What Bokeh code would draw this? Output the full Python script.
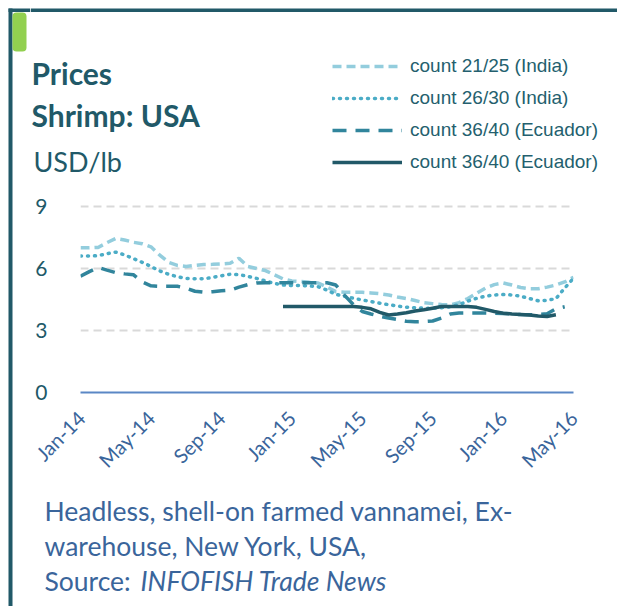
import math
from bokeh.plotting import figure
from bokeh.layouts import row, column
from bokeh.models import (ColumnDataSource, Range1d, FixedTicker, Legend, LegendItem,
                          Label, BoxAnnotation)
from bokeh.embed import file_html
from bokeh.resources import INLINE

NaN = float("nan")

# half-month periods from Jan-14 (0) to May-16 (28)
periods = [i / 2 for i in range(57)]
tick_positions = [0, 4, 8, 12, 16, 20, 24, 28]
tick_labels = ["Jan-14", "May-14", "Sep-14", "Jan-15", "May-15", "Sep-15", "Jan-16", "May-16"]
y_ticks = [0, 3, 6, 9]

india_2125 = [7.0, 7.0, 7.02, 7.25, 7.45, 7.38, 7.27, 7.2, 7.05, 6.65, 6.3, 6.15, 6.1, 6.15,
              6.19, 6.2, 6.22, 6.25, 6.5, 6.1, 6.0, 5.9, 5.7, 5.5, 5.4, 5.37, 5.33, 5.3, 5.1,
              4.88, 4.85, 4.85, 4.85, 4.82, 4.78, 4.72, 4.62, 4.55, 4.45, 4.35, 4.3, 4.26, 4.24,
              4.35, 4.55, 4.8, 5.05, 5.22, 5.3, 5.2, 5.08, 5.02, 5.02, 5.1, 5.2, 5.35, 5.58]
india_2630 = [6.6, 6.6, 6.62, 6.72, 6.79, 6.66, 6.48, 6.3, 6.1, 5.88, 5.72, 5.6, 5.52, 5.5,
              5.5, 5.57, 5.65, 5.72, 5.7, 5.62, 5.52, 5.4, 5.28, 5.2, 5.18, 5.18, 5.16, 5.12,
              4.95, 4.75, 4.65, 4.56, 4.48, 4.4, 4.32, 4.25, 4.18, 4.13, 4.1, 4.08, 4.08, 4.1,
              4.15, 4.25, 4.42, 4.56, 4.66, 4.72, 4.74, 4.72, 4.66, 4.55, 4.44, 4.46, 4.54, 5.05, 5.53]
ecuador_3640_a = [5.63, 5.85, 6.05, 5.92, 5.8, 5.74, 5.7,
                  5.35, 5.16, 5.14, 5.14, 5.14, 5.05, 4.9, 4.85,
                  4.88, 4.92, 4.95, 5.1, 5.22, 5.3, 5.31, 5.31,
                  5.31, 5.31, 5.31, 5.31, 5.31, 5.31, 5.2, 4.7,
                  4.25, 3.92, 3.8, 3.69, 3.6, 3.53, 3.45, 3.42,
                  3.43, 3.46, 3.6, 3.8, 3.85, 3.85, 3.85, 3.85,
                  3.84, 3.82, 3.8, 3.77, 3.76, 3.78, 3.81, 4.05,
                  4.15, NaN]
ecuador_3640_b = [NaN] * 23 + [4.16, 4.16, 4.16, 4.16, 4.16, 4.16, 4.16, 4.16, 4.16,
                               4.12, 4.05, 3.88, 3.75, 3.8, 3.86, 3.94, 4.0, 4.08,
                               4.16, 4.16, 4.16, 4.16,
                               4.12, 4.02, 3.92, 3.84, 3.8, 3.78, 3.75, 3.7, 3.68, 3.76] + [NaN, NaN]

series_names = ["count 21/25 (India)", "count 26/30 (India)",
                "count 36/40 (Ecuador)", "count 36/40 (Ecuador)"]

TEAL = "#215968"
BLUE_TXT = "#3a659b"
styles = [dict(line_color="#93cddd", line_width=3.5, line_dash="9 5"),
          dict(line_color="#4bacc6", line_width=3.5, line_dash="1 6", line_cap="round"),
          dict(line_color="#31859c", line_width=3.5, line_dash="14 9"),
          dict(line_color=TEAL, line_width=3.5)]

W = 617
STRIP = 30
RIGHT_W = W - STRIP
TOP_H = 180
CHART_H = 310
BOT_H = 606 - TOP_H - CHART_H
FRAME_TOP = 200      # page y of chart frame top
FRAME_BOTTOM = 392   # page y of the zero line


def blank(width, height, x0, x1, ytop, ybot):
    f = figure(width=width, height=height, output_backend="svg", toolbar_location=None,
               x_range=Range1d(x0, x1), y_range=Range1d(ybot, ytop),
               x_axis_location=None, y_axis_location=None,
               min_border=0, min_border_left=0, min_border_right=0,
               min_border_top=0, min_border_bottom=0, frame_align=False)
    f.grid.visible = False
    f.outline_line_color = None
    f.background_fill_color = "white"
    f.border_fill_color = "white"
    return f


def box(f, l, r, t, b, color, radius=0):
    f.add_layout(BoxAnnotation(left=l, right=r, top=t, bottom=b, fill_color=color,
                               fill_alpha=1, line_color=None, border_radius=radius))


def lab(f, text, x, baseline, size, color, style="normal", font="Lato"):
    # bokeh draws the alphabetic baseline ~0.41em below y; compensate
    y = baseline - 0.41 * size
    f.add_layout(Label(x=x, y=y, text=text, text_font=font, text_font_size=f"{size}px",
                       text_color=color, text_font_style=style, text_baseline="alphabetic"))


# ---- left strip: frame border + green tab
strip = blank(STRIP, 606, 0, STRIP, 0, 606)
box(strip, 8, 12, 8, 606, TEAL)
box(strip, 8, STRIP, 8, 11.5, TEAL)
box(strip, 12, 26, 12, 51, "#92d050", 4)

# ---- top: titles + legend
top = blank(RIGHT_W, TOP_H, STRIP, W, 0, TOP_H)
box(top, STRIP, W, 8, 11.5, TEAL)
lab(top, "Prices", 31, 85, 30, TEAL, "bold")
lab(top, "Shrimp: USA", 31, 127, 30, TEAL, "bold")
lab(top, "USD/lb", 33, 172, 27, TEAL)
dummy = [top.line(x=[NaN], y=[NaN], **s) for s in styles]
legend = Legend(items=[LegendItem(label=n, renderers=[r]) for n, r in zip(series_names, dummy)],
                location=(332 - STRIP, TOP_H - 173), glyph_width=70, glyph_height=20,
                label_height=20, spacing=10, padding=0, margin=0, label_standoff=8,
                label_text_font="Liberation Sans", label_text_font_size="19px",
                label_text_color="#245f6e", border_line_color=None, background_fill_alpha=0)
top.add_layout(legend)

# ---- chart
src = ColumnDataSource(dict(x=periods, a=india_2125, b=india_2630,
                            c=ecuador_3640_a, d=ecuador_3640_b))
px_per_unit = 62 / 3
p = figure(width=RIGHT_W, height=CHART_H, output_backend="svg", toolbar_location=None,
           x_range=Range1d(0, 28),
           y_range=Range1d(0, (FRAME_BOTTOM - FRAME_TOP) / px_per_unit),
           min_border_left=80 - STRIP, min_border_right=W - 573,
           min_border_top=FRAME_TOP - TOP_H,
           min_border_bottom=TOP_H + CHART_H - FRAME_BOTTOM, frame_align=False)
p.outline_line_color = None
p.background_fill_color = "white"
p.border_fill_color = "white"
for col, s in zip(["a", "b", "c", "d"], styles):
    p.line("x", col, source=src, **s)

p.xaxis.ticker = FixedTicker(ticks=tick_positions)
p.xaxis.major_label_overrides = {t: l for t, l in zip(tick_positions, tick_labels)}
p.xaxis.major_label_orientation = math.pi / 4
p.xaxis.axis_line_color = "#5a87c5"
p.xaxis.axis_line_width = 2
p.xaxis.major_tick_line_color = None
p.xaxis.minor_tick_line_color = None
p.xaxis.major_label_text_font = "Lato"
p.xaxis.major_label_text_font_size = "20px"
p.xaxis.major_label_text_color = BLUE_TXT
p.xaxis.major_label_standoff = 16

p.yaxis.ticker = FixedTicker(ticks=y_ticks)
p.yaxis.axis_line_color = None
p.yaxis.major_tick_line_color = None
p.yaxis.minor_tick_line_color = None
p.yaxis.major_label_text_font = "Lato"
p.yaxis.major_label_text_font_size = "21px"
p.yaxis.major_label_text_color = TEAL
p.yaxis.major_label_standoff = 27

p.xgrid.grid_line_color = None
p.ygrid.grid_line_color = "#d9d9d9"
p.ygrid.grid_line_width = 2
p.ygrid.grid_line_dash = "8 5"

# ---- bottom caption
bot = blank(RIGHT_W, BOT_H, STRIP, W, TOP_H + CHART_H, 606)
lab(bot, "Headless, shell-on farmed vannamei, Ex-", 44, 521.7, 26.5, BLUE_TXT)
lab(bot, "warehouse, New York, USA,", 44, 556.7, 26.5, BLUE_TXT)
lab(bot, "Source: ", 44, 591.7, 26.5, BLUE_TXT)
lab(bot, "INFOFISH Trade News", 140, 591.7, 26.5, BLUE_TXT, "italic")

layout = row(strip, column(top, p, bot, spacing=0), spacing=0)
open("out.html", "w").write(file_html(layout, INLINE))
